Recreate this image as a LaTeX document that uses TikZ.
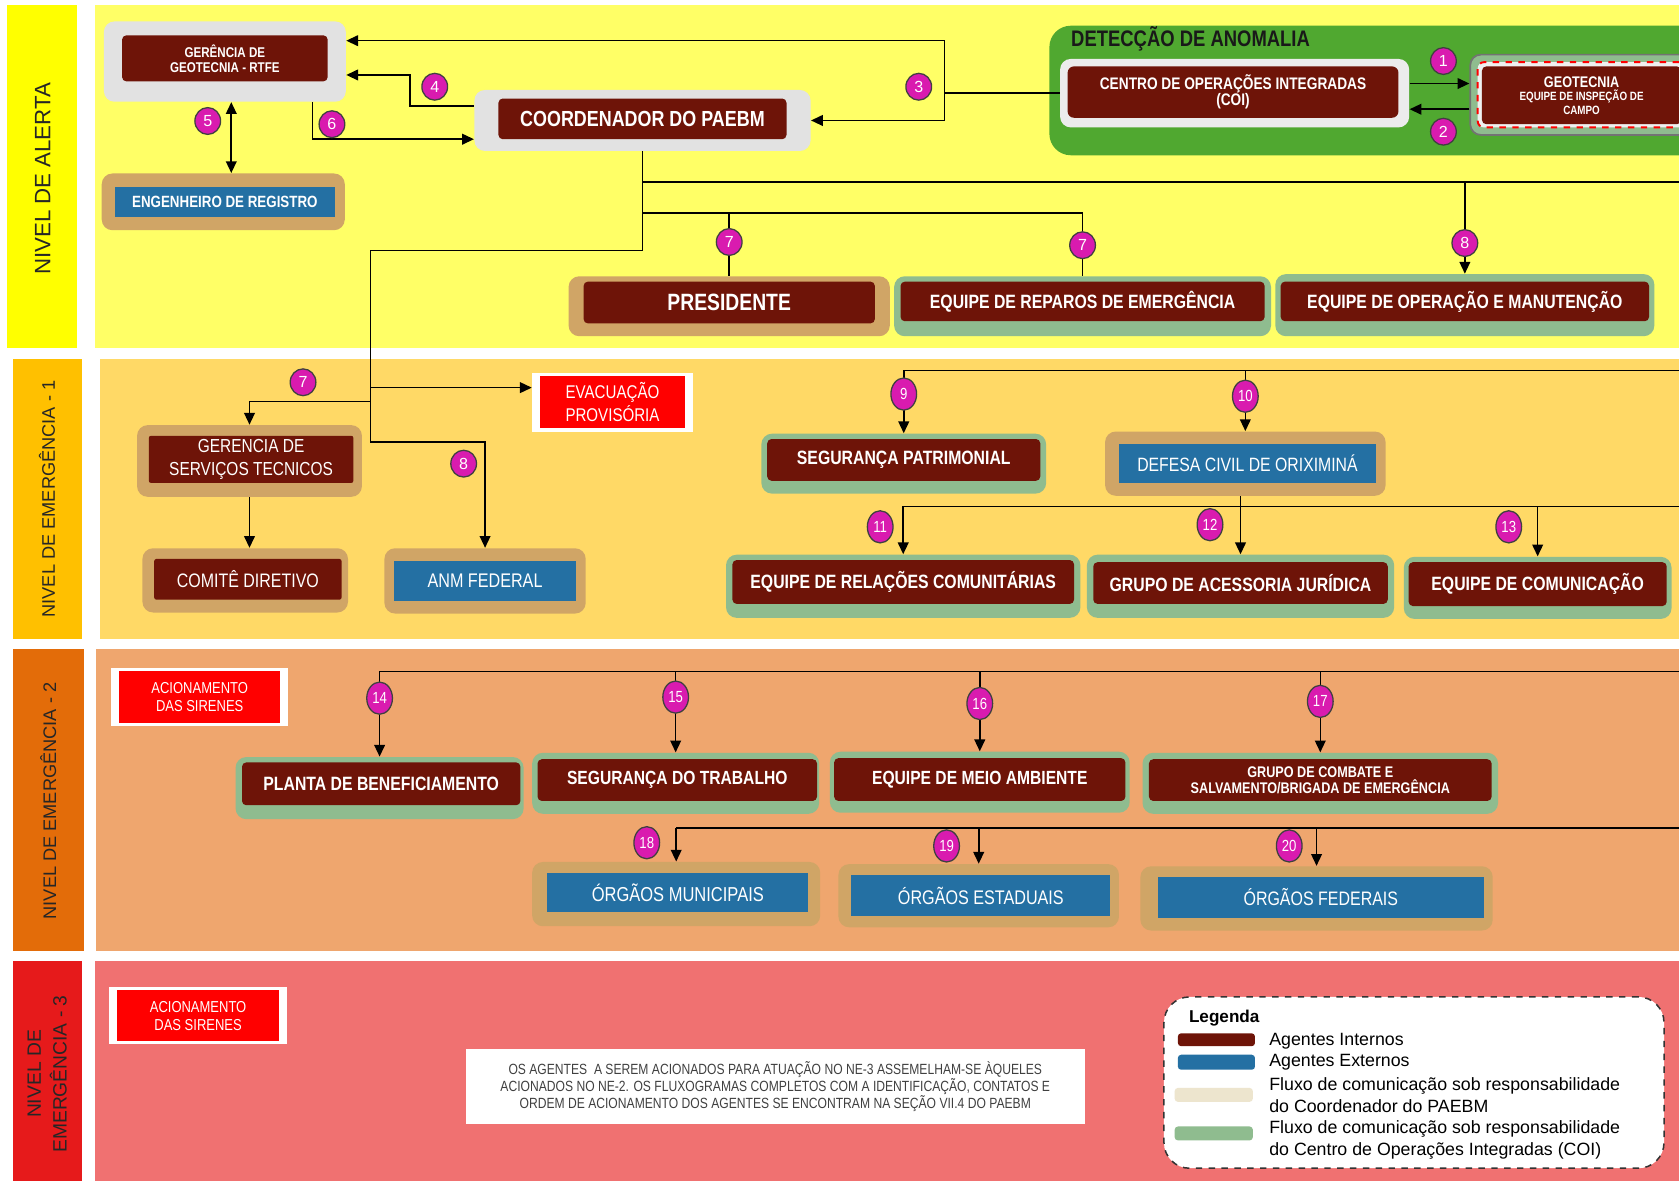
\documentclass[tikz,border=0pt]{standalone}
\usepackage{fontspec}
\setmainfont{Liberation Sans}
\newfontfamily\cnd[FakeStretch=0.82]{Liberation Sans}
\usetikzlibrary{arrows.meta,shapes.geometric}
\definecolor{redc}{RGB}{110,20,8}
\definecolor{bluec}{RGB}{36,112,163}
\definecolor{tanc}{RGB}{208,165,102}
\definecolor{greenc}{RGB}{143,188,143}
\definecolor{grayc}{RGB}{226,226,226}
\definecolor{grnbox}{RGB}{80,168,48}
\definecolor{magc}{RGB}{217,27,175}
\definecolor{sirred}{RGB}{255,0,0}
\definecolor{beigec}{RGB}{237,229,206}
\definecolor{bandA}{RGB}{255,255,102}
\definecolor{labA}{RGB}{255,255,0}
\definecolor{bandB}{RGB}{255,217,102}
\definecolor{labB}{RGB}{255,192,0}
\definecolor{bandC}{RGB}{239,166,110}
\definecolor{labC}{RGB}{227,108,9}
\definecolor{bandD}{RGB}{240,113,113}
\definecolor{labD}{RGB}{230,26,27}
\newcommand\fsz[2]{\fontsize{#1}{#2}\selectfont}
\newcommand\mkagent[9]{%
  \node[#2,minimum width=#5*0.5pt,minimum height=#6*0.5pt] (#1) at (#4) {};
  \node[#3,minimum width=#7*0.5pt,minimum height=#8*0.5pt] (#1-in) at (#4) {#9};}
\newcommand\badge[3]{\node[bdg] (#1) at (#2) {#3};}
\newcommand\badgew[3]{\node[bdg,minimum height=15pt,minimum width=12pt,font=\cnd\fsz{7.5}{8}] (#1) at (#2) {#3};}
\begin{document}
\begin{tikzpicture}[x=0.5pt,y=-0.5pt,
  fzb/.style 2 args={font=\cnd\bfseries\fsz{#1}{#2}},
  fzr/.style 2 args={font=\cnd\fsz{#1}{#2}},
  outgray/.style={fill=grayc,rounded corners=5pt,inner sep=0pt},
  outtan/.style={fill=tanc,rounded corners=5pt,inner sep=0pt},
  outgreen/.style={fill=greenc,rounded corners=5pt,inner sep=0pt},
  outwhite/.style={fill=white,inner sep=0pt},
  inred/.style={fill=redc,rounded corners=2pt,text=white,align=center,inner sep=0pt,font=\cnd\bfseries},
  inredr/.style={fill=redc,rounded corners=1pt,text=white,align=center,inner sep=0pt,font=\cnd},
  inblue/.style={fill=bluec,text=white,align=center,inner sep=0pt,font=\cnd},
  insir/.style={fill=sirred,text=white,align=center,inner sep=0pt,font=\cnd},
  ln/.style={line width=0.75pt,draw=black},
  arr/.style={ln,-{Triangle[length=5.5pt,width=5pt]}},
  dbl/.style={ln,{Triangle[length=5.5pt,width=5pt]}-{Triangle[length=5.5pt,width=5pt]}},
  bdg/.style={ellipse,fill=magc,draw=black!75,line width=0.6pt,text=white,inner sep=0pt,
    minimum width=12pt,minimum height=12.5pt,font=\fsz{7.5}{8}},
  lab/.style={rotate=90,align=center,text=black!85}]
\clip (0,0) rectangle (1568,1103);
\fill[white] (0,0) rectangle (1568,1103);
% bands
\fill[labA] (7,5) rectangle (72,325);
\fill[bandA] (89,5) rectangle (1568,325);
\fill[labB] (12,335) rectangle (77,597);
\fill[bandB] (93,335) rectangle (1568,597);
\fill[labC] (12,606) rectangle (78,888);
\fill[bandC] (90,606) rectangle (1568,888);
\fill[labD] (12,897) rectangle (77,1103);
\fill[bandD] (89,897) rectangle (1568,1103);
\node[lab,font=\fsz{10.4}{12}] (labA) at (40,167) {NIVEL DE ALERTA};
\node[lab,font=\fsz{8.5}{10}] (labB) at (44,466) {NIVEL DE EMERGÊNCIA - 1};
\node[lab,font=\fsz{8.5}{10}] (labC) at (45,748) {NIVEL DE EMERGÊNCIA - 2};
\node[lab,font=\fsz{9}{12}] (labD) at (44,1003) {NIVEL DE\\EMERGÊNCIA - 3};
\coordinate (edge) at (1568,0);
% ---- alert band
\node[fill=grnbox,rounded corners=10pt,minimum width=320pt,minimum height=60.5pt,inner sep=0pt] (det) at (1300,84.5) {};
\node[anchor=west,font=\cnd\bfseries\fsz{10.5}{11},text=black!90,inner sep=0pt] (dett) at (1000,36) {DETECÇÃO DE ANOMALIA};
\mkagent{gerg}{outgray}{inred,fzb={6.6}{7},yshift=1.5pt}{210,57.5}{226}{75}{192}{43}{GERÊNCIA DE\\GEOTECNIA - RTFE}
\mkagent{eng}{outtan}{inblue,fzb={7.6}{8},xshift=0.75pt}{208.5,188.5}{227}{53}{206}{28}{ENGENHEIRO DE REGISTRO}
\mkagent{coord}{outgray}{inred,fzb={10.2}{11},yshift=0.75pt}{600,112.5}{314}{57}{269}{38}{COORDENADOR DO PAEBM}
\mkagent{coi}{outgray,fill=gray!15}{inred,fzb={7.8}{7.6},rounded corners=3pt,xshift=-0.75pt,yshift=0.5pt}{1153,87}{326}{64}{309}{48}{CENTRO DE OPERAÇÕES INTEGRADAS\\(COI)}
\node[fill=greenc,draw=black!55,line width=0.8pt,rounded corners=5pt,minimum width=104pt,minimum height=37.5pt] (geo) at (1477,88.5) {};
\node[fill=gray!12,draw=red,dashed,line width=0.9pt,rounded corners=3pt,minimum width=97pt,minimum height=30.5pt] (geo-fr) at (1477,88.5) {};
\node[inred,fzb={5.6}{6.3},minimum width=93pt,minimum height=27pt] (geo-in) at (1477,89) {\fsz{7.2}{7}GEOTECNIA\\\fsz{5.6}{6.3}EQUIPE DE INSPEÇÃO DE\\\fsz{5.6}{6.3}CAMPO};
\mkagent{pres}{outtan}{inred,fzb={11}{12},yshift=1.75pt}{681,286}{300}{56}{272}{39}{PRESIDENTE}
\mkagent{rep}{outgreen}{inred,fzb={9}{10},yshift=2.25pt}{1011,286}{352}{56}{340}{37}{EQUIPE DE REPAROS DE EMERGÊNCIA}
\mkagent{opm}{outgreen}{inred,fzb={9}{10},yshift=1.75pt}{1368,285}{354}{58}{344}{37}{EQUIPE DE OPERAÇÃO E MANUTENÇÃO}
% ---- emergencia 1
\mkagent{evac}{outwhite}{insir,fzr={8.6}{10.5}}{572,375.5}{150}{55}{136}{48}{EVACUAÇÃO\\PROVISÓRIA}
\mkagent{gst}{outtan}{inredr,fzr={8.8}{10.5},xshift=0.75pt,yshift=0.75pt}{233,430.5}{210}{67}{191}{44}{GERENCIA DE\\SERVIÇOS TECNICOS}
\mkagent{cdir}{outtan}{inredr,fzr={9.1}{10},xshift=1.25pt,yshift=0.5pt}{229,542}{192}{60}{175}{38}{COMITÊ DIRETIVO}
\mkagent{anm}{outtan}{inblue,fzr={9.2}{10}}{453,542.5}{188}{61}{170}{38}{ANM FEDERAL}
\mkagent{segp}{outgreen}{inred,fzb={9}{10},yshift=1.75pt}{844,433}{266}{56}{255}{39}{SEGURANÇA PATRIMONIAL}
\mkagent{dcv}{outtan}{inblue,fzr={9}{10},xshift=1pt}{1163,433}{262}{60}{240}{37}{DEFESA CIVIL DE ORIXIMINÁ}
\mkagent{erc}{outgreen}{inred,fzb={9}{10},yshift=2pt}{843.5,547.5}{331}{59}{319}{41}{EQUIPE DE RELAÇÕES COMUNITÁRIAS}
\mkagent{gaj}{outgreen}{inred,fzb={9}{10},yshift=1.5pt}{1158.5,547.5}{287}{59}{275}{39}{GRUPO DE ACESSORIA JURÍDICA}
\mkagent{ecom}{outgreen}{inred,fzb={9}{10},yshift=1.75pt}{1436,549}{250}{58}{241}{41}{EQUIPE DE COMUNICAÇÃO}
% ---- emergencia 2
\mkagent{sir2}{outwhite}{insir,fzr={7.4}{8.5}}{186.5,651}{165}{54}{150}{48}{ACIONAMENTO\\DAS SIRENES}
\mkagent{plant}{outgreen}{inred,fzb={9}{10},xshift=0.75pt,yshift=2pt}{354.5,736}{269}{58}{260}{40}{PLANTA DE BENEFICIAMENTO}
\mkagent{segt}{outgreen}{inred,fzb={8.9}{10},xshift=0.75pt,yshift=1.5pt}{631,731.5}{268}{57}{261}{39}{SEGURANÇA DO TRABALHO}
\mkagent{ema}{outgreen}{inred,fzb={8.9}{10},yshift=1.25pt}{915,730.5}{280}{57}{272}{40}{EQUIPE DE MEIO AMBIENTE}
\mkagent{gcs}{outgreen}{inred,fzb={7.2}{7.5},yshift=1.5pt}{1233,731.5}{332}{57}{320}{39}{GRUPO DE COMBATE E\\SALVAMENTO/BRIGADA DE EMERGÊNCIA}
\mkagent{omun}{outtan}{inblue,fzr={9.4}{10},xshift=0.75pt,yshift=0.75pt}{631.5,835}{269}{60}{244}{37}{ÓRGÃOS MUNICIPAIS}
\mkagent{oest}{outtan}{inblue,fzr={9.2}{10},xshift=1pt}{914,836.5}{262}{59}{242}{38}{ÓRGÃOS ESTADUAIS}
\mkagent{ofed}{outtan}{inblue,fzr={9.1}{10},xshift=2pt,yshift=0.5pt}{1229.5,839}{329}{60}{305}{38}{ÓRGÃOS FEDERAIS}
% ---- emergencia 3
\mkagent{sir3}{outwhite}{insir,fzr={7.4}{8.5}}{185,948.5}{166}{53}{151}{48}{ACIONAMENTO\\DAS SIRENES}
\node[fill=white,minimum width=289pt,minimum height=35pt,align=center,inner sep=0pt,font=\cnd\fsz{6.9}{8},text=black!75] (note) at (724,1015) {OS AGENTES \ A SEREM ACIONADOS PARA ATUAÇÃO NO NE-3 ASSEMELHAM-SE ÀQUELES\\ACIONADOS NO NE-2. OS FLUXOGRAMAS COMPLETOS COM A IDENTIFICAÇÃO, CONTATOS E\\ORDEM DE ACIONAMENTO DOS AGENTES SE ENCONTRAM NA SEÇÃO VII.4 DO PAEBM};
% legend
\node[draw=black!80,dashed,fill=white,rounded corners=12pt,line width=0.7pt,minimum width=233.5pt,minimum height=80pt,inner sep=0pt] (leg) at (1320.5,1011) {};
\node[anchor=west,font=\bfseries\fsz{8}{9},inner sep=0pt] (legt) at (1110,951) {Legenda};
\node[fill=redc,rounded corners=1.5pt,minimum width=36pt,minimum height=6pt,inner sep=0pt] (sw1) at (1136,971) {};
\node[fill=bluec,rounded corners=1.5pt,minimum width=36pt,minimum height=7pt,inner sep=0pt] (sw2) at (1136,992) {};
\node[fill=beigec,rounded corners=1.5pt,minimum width=36.5pt,minimum height=6.5pt,inner sep=0pt] (sw3) at (1133.5,1022.5) {};
\node[fill=greenc,rounded corners=1.5pt,minimum width=36.5pt,minimum height=6.5pt,inner sep=0pt] (sw4) at (1133.5,1058.5) {};
\node[anchor=west,font=\fsz{8.3}{10.4},inner sep=0pt] (lt1) at (1185,972) {Agentes Internos};
\node[anchor=west,font=\fsz{8.3}{10.4},inner sep=0pt] (lt2) at (1185,992) {Agentes Externos};
\node[anchor=west,align=left,font=\fsz{8.3}{10.4},inner sep=0pt] (lt3) at (1185,1023) {Fluxo de comunicação sob responsabilidade\\do Coordenador do PAEBM};
\node[anchor=west,align=left,font=\fsz{8.3}{10.4},inner sep=0pt] (lt4) at (1185,1064.5) {Fluxo de comunicação sob responsabilidade\\do Centro de Operações Integradas (COI)};
% ---- connectors alert
\coordinate (x5) at (216,0);
\coordinate (x6) at (292,0);
\coordinate (j4) at (383,70);
\coordinate (j3) at (882,87);
\draw[dbl] (gerg.south -| x5) -- (eng.north -| x5);
\coordinate (c6) at ([yshift=-8.75pt]coord.west);
\draw[arr] (gerg.south -| x6) |- (c6);
\coordinate (c4s) at ([yshift=6.75pt]coord.west);
\coordinate (c4e) at ([yshift=-6.25pt]gerg.east);
\draw[arr] (c4s) -| (c4e -| j4) -- (c4e);
\coordinate (c3e) at ([yshift=9.75pt]gerg.east);
\draw[ln] (coi.west) -- (j3);
\draw[arr] (j3) |- (c3e);
\draw[arr] (j3) |- (coord.east);
\coordinate (c1) at ([yshift=4.5pt]coi.east);
\draw[arr] (c1) -- (c1 -| geo.west);
\coordinate (c2) at ([yshift=-7.5pt]coi.east);
\draw[arr] (c2 -| geo.west) -- (c2);
% coordinator tree
\coordinate (t1) at (600,170);
\coordinate (t2) at (600,199);
\coordinate (t3) at (600,234);
\coordinate (v1) at (346,234);
\coordinate (v2) at (346,362);
\coordinate (v3) at (346,375);
\coordinate (v4) at (346,413);
\draw[ln] (coord.south) -- (t3) -- (v1) -- (v4);
\draw[ln] (t1) -- (t1 -| edge);
\draw[arr] (t1 -| opm.north) -- (opm.north);
\draw[ln] (t2) -| (rep.north);
\draw[ln] (t2 -| pres.north) -- (pres.north);
\draw[arr] (v2) -- (v2 -| evac.west);
\draw[arr] (v3) -| (gst.north);
\draw[arr] (v4) -| (anm.north);
\draw[arr] (gst.south) -- (gst.south |- cdir.north);
% emergencia 1 right
\coordinate (h9) at (844,346);
\draw[ln] (h9) -- (h9 -| edge);
\draw[arr] (h9) -- (segp.north);
\draw[arr] (h9 -| dcv.north) -- (dcv.north);
\coordinate (h11) at (843.5,473);
\draw[ln] (h11) -- (h11 -| edge);
\draw[arr] (h11) -- (erc.north);
\draw[arr] (dcv.south -| gaj.north) -- (gaj.north);
\draw[arr] (h11 -| ecom.north) -- (ecom.north);
% emergencia 2
\coordinate (h14) at (354.5,627);
\draw[ln] (h14) -- (h14 -| edge);
\draw[arr] (h14) -- (plant.north);
\draw[arr] (h14 -| segt.north) -- (segt.north);
\draw[arr] (h14 -| ema.north) -- (ema.north);
\draw[arr] (h14 -| gcs.north) -- (gcs.north);
\coordinate (h18) at (631.5,773);
\draw[ln] (h18) -- (h18 -| edge);
\draw[arr] (h18) -- (omun.north);
\draw[arr] (h18 -| oest.north) -- (oest.north);
\draw[arr] (h18 -| ofed.north) -- (ofed.north);
% badges
\badge{b1}{1348,57}{1}
\badge{b2}{1348,123}{2}
\badge{b3}{858,81}{3}
\badge{b4}{406,81}{4}
\badge{b5}{194,113}{5}
\badge{b6}{310,116}{6}
\badge{b7a}{681,226}{7}
\badge{b7b}{1011,229}{7}
\badge{b8a}{1368,227}{8}
\badge{b7c}{283,357}{7}
\badge{b8b}{433,433}{8}
\badgew{b9}{844,368}{9}
\badgew{b10}{1163,370}{10}
\badgew{b11}{822,492}{11}
\badgew{b12}{1130,490}{12}
\badgew{b13}{1409,492}{13}
\badgew{b14}{354.5,652}{14}
\badgew{b15}{631,651}{15}
\badgew{b16}{915,657}{16}
\badgew{b17}{1233,655}{17}
\badgew{b18}{604,787}{18}
\badgew{b19}{884,790}{19}
\badgew{b20}{1204,790}{20}
\end{tikzpicture}
\end{document}
